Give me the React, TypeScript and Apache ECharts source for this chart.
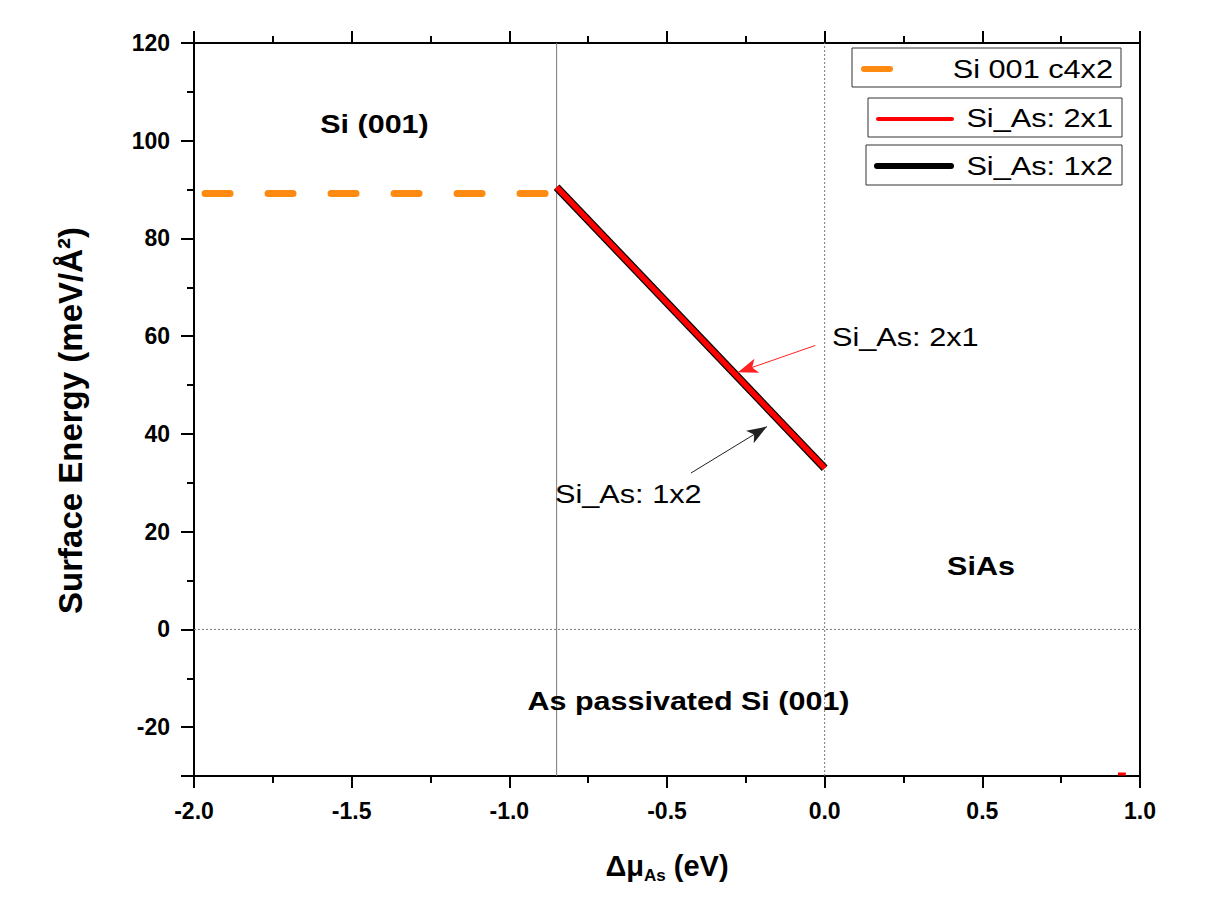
import React, { useEffect, useRef } from "react";
import * as echarts from "echarts";

// ---- data ----
const xMin = -2;
const xMax = 1;
const yMin = -30;
const yMax = 120;
const yMajorTicks = [-30, -20, 0, 20, 40, 60, 80, 100, 120];
const yLabelValues = [-20, 0, 20, 40, 60, 80, 100, 120];
const yMinorTicks = [-10, 10, 30, 50, 70, 90, 110];

const siC4x2 = [[-1.965, 89.2], [-0.85, 89.2]];
const siAs2x1 = [[-0.85, 90.5], [0, 33]];
const siAs1x2 = [[-0.85, 90.5], [0, 33]];
const siAs2x1Stub = [[0.93, -29.6], [0.955, -29.6]];

const boundaryLeft = [[-0.85, -30], [-0.85, 120]];
const boundaryRight = [[0, -30], [0, 120]];
const zeroLine = [[-2, 0], [1, 0]];

const arrow2x1 = [[-0.03, 58.1], [-0.275, 52.6]];
const arrow1x2 = [[-0.424, 32.0], [-0.183, 41.5]];

const FONT = "'Liberation Sans', Arial, sans-serif";

export default function App() {
  const ref = useRef<HTMLDivElement>(null);

  useEffect(() => {
    if (!ref.current) return;
    const chart = echarts.init(ref.current, undefined, { renderer: "svg" });

    const axisLine = { show: true, onZero: false, lineStyle: { color: "#000", width: 2 } };

    const textEl = (
      text: string,
      x: number,
      y: number,
      opts: { bold?: boolean; size: number; sx: number; align: string }
    ) => ({
      type: "text",
      x,
      y,
      scaleX: opts.sx,
      z: 100,
      style: {
        text,
        fontFamily: FONT,
        fontSize: opts.size,
        fontWeight: opts.bold ? "bold" : "normal",
        fill: "#000",
        align: opts.align,
        verticalAlign: "middle",
        textAlign: opts.align,
        textVerticalAlign: "middle",
      },
    });

    const legendBox = (x1: number, y1: number, x2: number, y2: number) => ({
      type: "rect",
      shape: { x: x1, y: y1, width: x2 - x1, height: y2 - y1 },
      style: { fill: "#fff", stroke: "#333", lineWidth: 1 },
      z: 99,
    });
    const legendLine = (x1: number, x2: number, y: number, color: string, w: number) => ({
      type: "line",
      shape: { x1, y1: y, x2, y2: y },
      style: { stroke: color, lineWidth: w, lineCap: "round" },
      z: 100,
    });

    const option: any = {
      animation: false,
      backgroundColor: "#fff",
      textStyle: { fontFamily: FONT },
      grid: { left: 194, right: 71, top: 43, bottom: 123, containLabel: false },
      xAxis: [
        {
          type: "value",
          position: "bottom",
          min: xMin,
          max: xMax,
          interval: 0.5,
          axisLine,
          axisTick: { show: true, inside: false, length: 12, lineStyle: { color: "#000", width: 2 } },
          minorTick: { show: true, splitNumber: 2, length: 7, lineStyle: { color: "#000", width: 2 } },
          splitLine: { show: false },
          axisLabel: {
            color: "#000",
            fontSize: 23,
            fontWeight: "bold",
            fontFamily: FONT,
            margin: 23,
            formatter: (v: number) => v.toFixed(1),
          },
          name: "{a|Δμ}{b|As}{a| (eV)}",
          nameLocation: "middle",
          nameGap: 72,
          nameTextStyle: {
            rich: {
              a: { fontSize: 29, fontWeight: "bold", fontFamily: FONT, color: "#000", lineHeight: 36, verticalAlign: "middle" },
              b: { fontSize: 17, fontWeight: "bold", fontFamily: FONT, color: "#000", lineHeight: 16, verticalAlign: "bottom" },
            },
          },
        },
        {
          type: "value",
          position: "top",
          min: xMin,
          max: xMax,
          interval: 0.5,
          axisLine,
          axisTick: { show: true, inside: false, length: 12, lineStyle: { color: "#000", width: 2 } },
          minorTick: { show: true, splitNumber: 2, length: 7, lineStyle: { color: "#000", width: 2 } },
          splitLine: { show: false },
          axisLabel: { show: false },
        },
      ],
      yAxis: [
        {
          type: "value",
          position: "left",
          min: yMin,
          max: yMax,
          axisLine,
          axisTick: { show: true, inside: false, length: 13, customValues: yMajorTicks, lineStyle: { color: "#000", width: 2 } },
          splitLine: { show: false },
          axisLabel: {
            customValues: yLabelValues,
            color: "#000",
            fontSize: 23,
            fontWeight: "bold",
            fontFamily: FONT,
            margin: 24,
          },
          name: "Surface Energy (meV/Å²)",
          nameLocation: "middle",
          nameRotate: 90,
          nameGap: 107,
          nameTextStyle: { fontSize: 33, fontWeight: "bold", fontFamily: FONT, color: "#000", padding: [0, 22, 0, 0] },
        },
        {
          type: "value",
          position: "left",
          min: yMin,
          max: yMax,
          axisLine: { show: false, onZero: false },
          axisTick: { show: true, inside: false, length: 7, customValues: yMinorTicks, lineStyle: { color: "#000", width: 2 } },
          splitLine: { show: false },
          axisLabel: { show: false },
        },
        {
          type: "value",
          position: "right",
          min: yMin,
          max: yMax,
          axisLine,
          axisTick: { show: false },
          splitLine: { show: false },
          axisLabel: { show: false },
        },
      ],
      series: [
        {
          name: "boundary -0.85",
          type: "line",
          data: boundaryLeft,
          symbol: "none",
          lineStyle: { color: "#777", width: 1 },
          z: 1,
          silent: true,
        },
        {
          name: "boundary 0",
          type: "line",
          data: boundaryRight,
          symbol: "none",
          lineStyle: { color: "#777", width: 1, type: [2, 2] },
          z: 1,
          silent: true,
        },
        {
          name: "zero",
          type: "line",
          data: zeroLine,
          symbol: "none",
          lineStyle: { color: "#777", width: 1, type: [2, 2] },
          z: 1,
          silent: true,
        },
        {
          name: "Si 001 c4x2",
          type: "line",
          data: siC4x2,
          symbol: "none",
          lineStyle: { color: "#ff8a12", width: 7, type: [25, 38], cap: "round" },
          z: 3,
        },
        {
          name: "Si_As: 1x2",
          type: "line",
          data: siAs1x2,
          symbol: "none",
          lineStyle: { color: "#000", width: 8 },
          z: 4,
          markLine: {
            silent: true,
            symbol: ["none", "arrow"],
            symbolSize: [11, 20],
            label: { show: false },
            lineStyle: { color: "#222", width: 1, type: "solid" },
            data: [[{ coord: arrow1x2[0] }, { coord: arrow1x2[1] }]],
          },
        },
        {
          name: "Si_As: 2x1",
          type: "line",
          data: siAs2x1,
          symbol: "none",
          lineStyle: { color: "#ff0000", width: 5.5 },
          z: 5,
          markLine: {
            silent: true,
            symbol: ["none", "arrow"],
            symbolSize: [11, 20],
            label: { show: false },
            lineStyle: { color: "#ff2020", width: 1, type: "solid" },
            data: [[{ coord: arrow2x1[0] }, { coord: arrow2x1[1] }]],
          },
        },
        {
          name: "Si_As: 2x1 stub",
          type: "line",
          data: siAs2x1Stub,
          symbol: "none",
          lineStyle: { color: "#ff0000", width: 3 },
          z: 5,
        },
      ],
      graphic: [
        textEl("Si (001)", 374.5, 124, { bold: true, size: 25, sx: 1.22, align: "center" }),
        textEl("As passivated Si (001)", 688.5, 701, { bold: true, size: 25, sx: 1.22, align: "center" }),
        textEl("SiAs", 981, 566, { bold: true, size: 25, sx: 1.22, align: "center" }),
        textEl("Si_As: 2x1", 832, 337, { size: 26, sx: 1.18, align: "left" }),
        textEl("Si_As: 1x2", 555, 494, { size: 26, sx: 1.18, align: "left" }),
        legendBox(852, 48, 1121, 87),
        legendLine(864, 890, 69, "#ff8a12", 6),
        textEl("Si 001 c4x2", 1113, 69, { size: 26, sx: 1.18, align: "right" }),
        legendBox(868, 98, 1122, 137),
        legendLine(878, 952, 119, "#ff0000", 4),
        textEl("Si_As: 2x1", 1113, 118, { size: 26, sx: 1.18, align: "right" }),
        legendBox(866, 145, 1122, 185),
        legendLine(877, 951, 166, "#000", 6),
        textEl("Si_As: 1x2", 1113, 166, { size: 26, sx: 1.18, align: "right" }),
      ],
    };

    chart.setOption(option);
    return () => chart.dispose();
  }, []);

  return (
    <div
      ref={ref}
      style={{ position: "fixed", left: 0, top: 0, width: 1211, height: 899, background: "#fff" }}
    />
  );
}
